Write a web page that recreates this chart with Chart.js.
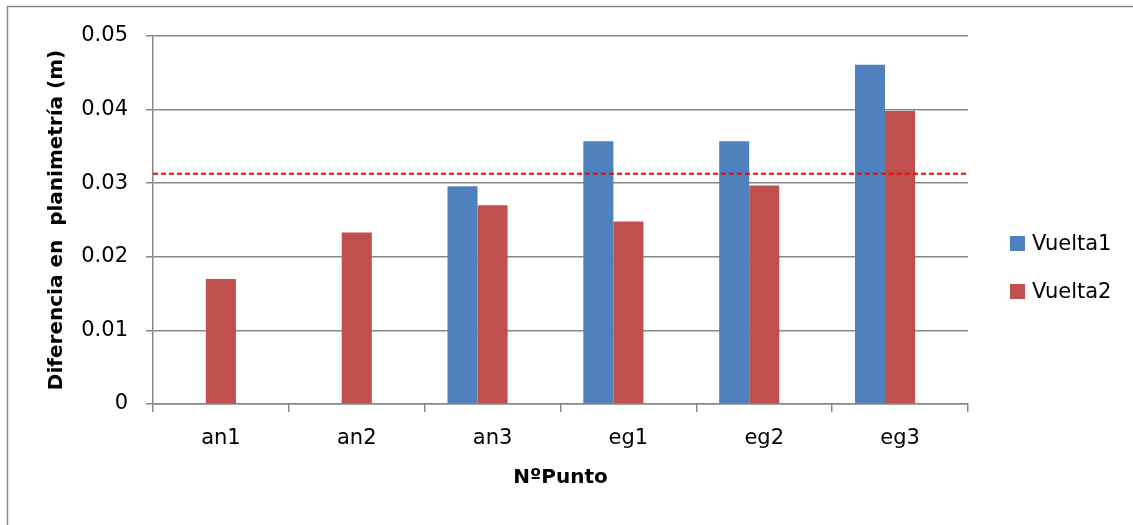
<!DOCTYPE html>
<html>
<head>
<meta charset="utf-8">
<script src="https://cdn.jsdelivr.net/npm/chart.js@4/dist/chart.umd.min.js"></script>
<style>
  html, body { margin: 0; padding: 0; background: #ffffff; }
  #wrap { width: 1133px; height: 525px; }
</style>
</head>
<body>
<div id="wrap"><canvas id="c" width="1133" height="525"></canvas></div>
<script>
// Points surveyed and the planimetric difference (m) in each pass
const puntos  = ['an1', 'an2', 'an3', 'eg1', 'eg2', 'eg3'];
const vuelta1 = [null, null, 0.0296, 0.0357, 0.0357, 0.0461];
const vuelta2 = [0.0170, 0.0233, 0.0270, 0.0248, 0.0297, 0.0398];
// Tolerance series: shown only as a dashed line, but it keeps its bar slot in each group
const tolerancia = 0.0313;
const toleranciaSlot = [null, null, null, null, null, null];
const yTickLabels = ['0', '0.01', '0.02', '0.03', '0.04', '0.05'];

const GRID = '#878787';
const FONT = 'DejaVu Sans';

// Outer frame of the chart object
const framePlugin = {
  id: 'frame',
  beforeDraw(chart) {
    const ctx = chart.ctx;
    ctx.save();
    ctx.fillStyle = '#ffffff';
    ctx.fillRect(0, 0, chart.width, chart.height);
    ctx.strokeStyle = GRID;
    ctx.lineWidth = 1.5;
    ctx.strokeRect(7.5, 6.5, chart.width + 20, chart.height + 20);
    ctx.restore();
  }
};

// Dashed tolerance line across the plot area
const toleranciaPlugin = {
  id: 'tolerancia',
  afterDatasetsDraw(chart) {
    const {ctx, chartArea, scales} = chart;
    const y = scales.y.getPixelForValue(tolerancia);
    ctx.save();
    ctx.strokeStyle = '#ff0000';
    ctx.lineWidth = 2;
    ctx.setLineDash([5, 3]);
    ctx.beginPath();
    ctx.moveTo(chartArea.left, y);
    ctx.lineTo(chartArea.right, y);
    ctx.stroke();
    ctx.restore();
  }
};

// Legend on the right, built from the bar datasets
const leyendaPlugin = {
  id: 'leyenda',
  afterDraw(chart) {
    const ctx = chart.ctx;
    const x = chart.chartArea.right + 42;
    const y0 = 243.5;
    const step = 48;
    ctx.save();
    ctx.font = '21px "' + FONT + '"';
    ctx.textBaseline = 'middle';
    ctx.textAlign = 'left';
    chart.data.datasets.filter(ds => ds.enLeyenda).forEach((ds, i) => {
      const yc = y0 + i * step;
      ctx.fillStyle = ds.backgroundColor;
      ctx.fillRect(x, yc - 7.5, 15, 15);
      ctx.fillStyle = '#000000';
      ctx.fillText(ds.label, x + 22, yc + 1);
    });
    ctx.restore();
  }
};

new Chart(document.getElementById('c'), {
  type: 'bar',
  data: {
    labels: puntos,
    datasets: [
      { label: 'Vuelta1', data: vuelta1, backgroundColor: '#4F81BD', enLeyenda: true },
      { label: 'Vuelta2', data: vuelta2, backgroundColor: '#C0504D', enLeyenda: true },
      { label: 'Tolerancia', data: toleranciaSlot, backgroundColor: '#ff0000', enLeyenda: false }
    ]
  },
  options: {
    responsive: false,
    animation: false,
    devicePixelRatio: 1,
    categoryPercentage: 0.664,
    barPercentage: 1.0,
    layout: { padding: { top: 36, right: 165, bottom: 0, left: 0 } },
    plugins: {
      legend: { display: false },
      tooltip: { enabled: false }
    },
    scales: {
      x: {
        grid: { drawOnChartArea: false, offset: true, tickLength: 8, color: GRID, lineWidth: 1.5 },
        border: { color: GRID, width: 1.5 },
        ticks: { color: '#000000', padding: 14, font: { family: FONT, size: 21 } },
        title: {
          display: true, text: 'NºPunto', color: '#000000',
          font: { family: FONT, size: 20, weight: 'bold' },
          padding: { top: 0, bottom: 35 }
        },
        afterFit(scale) { scale.height = 121; }
      },
      y: {
        min: 0, max: 0.05,
        grid: { color: GRID, lineWidth: 1.5, tickLength: 7 },
        border: { color: GRID, width: 1.5 },
        ticks: {
          stepSize: 0.01, color: '#000000', padding: 18,
          font: { family: FONT, size: 21 },
          callback: (v, i) => yTickLabels[i]
        },
        title: {
          display: true, text: 'Diferencia en  planimetría (m)', color: '#000000',
          font: { family: FONT, size: 20, weight: 'bold' },
          padding: { top: 45, bottom: 0 }
        },
        afterFit(scale) { scale.width = 153; }
      }
    }
  },
  plugins: [framePlugin, toleranciaPlugin, leyendaPlugin]
});
</script>
</body>
</html>
